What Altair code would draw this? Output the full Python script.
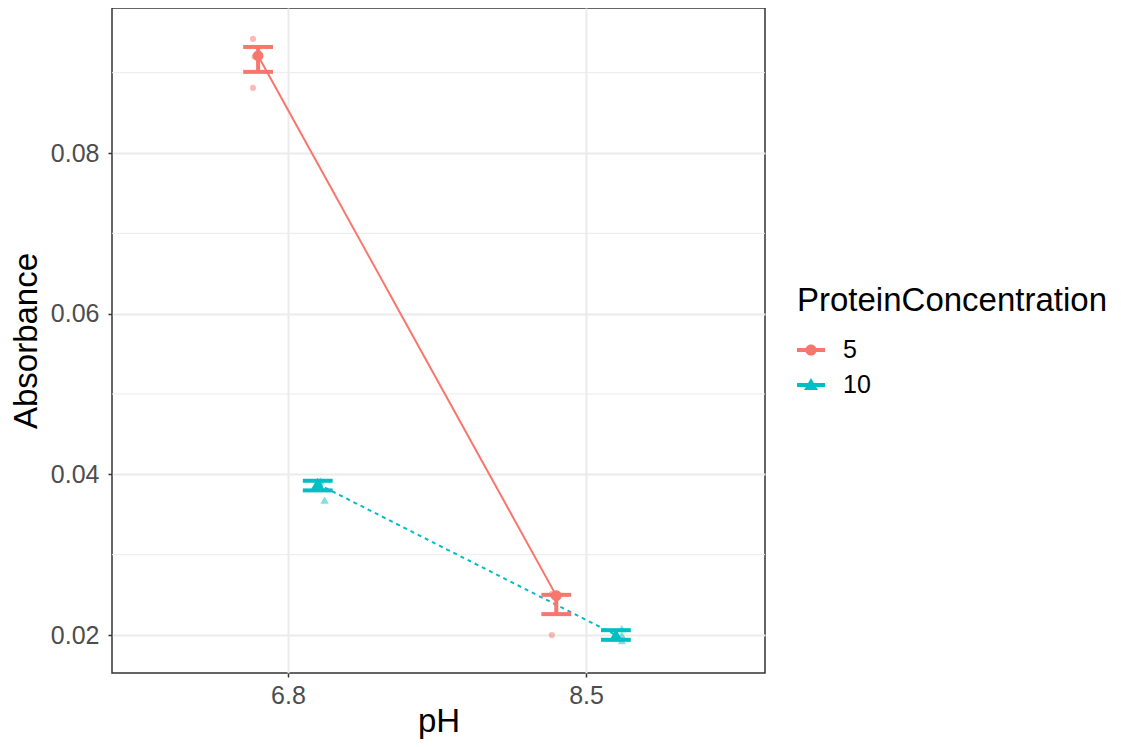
import altair as alt
import pandas as pd

# ---- data ----
ph_levels = ["6.8", "8.5"]
group_levels = ["5", "10"]

mean_ph = ["6.8", "8.5", "6.8", "8.5"]
mean_group = ["5", "5", "10", "10"]
mean_abs = [0.0921, 0.0249, 0.0388, 0.0200]
lower_abs = [0.0901, 0.0226, 0.0380, 0.0194]
upper_abs = [0.0932, 0.0250, 0.0392, 0.0206]

raw_ph = ["6.8", "6.8", "6.8", "8.5", "8.5", "8.5", "6.8", "6.8", "6.8", "8.5", "8.5", "8.5"]
raw_group = ["5", "5", "5", "5", "5", "5", "10", "10", "10", "10", "10", "10"]
raw_abs = [0.0942, 0.0920, 0.0881, 0.0251, 0.0249, 0.0200,
           0.0392, 0.0390, 0.0368, 0.0208, 0.0200, 0.0193]
raw_jitter = [-0.017, -0.012, -0.017, -0.015, -0.010, -0.015,
              0.010, 0.005, 0.023, 0.020, 0.020, 0.020]

y_major = [0.02, 0.04, 0.06, 0.08]
y_minor = [0.03, 0.05, 0.07, 0.09]

colors = ["#F8766D", "#00BFC4"]

means = pd.DataFrame({"pH": mean_ph, "group": mean_group, "mean": mean_abs,
                      "lower": lower_abs, "upper": upper_abs})
raw = pd.DataFrame({"pH": raw_ph, "group": raw_group, "value": raw_abs, "jit": raw_jitter})
minor = pd.DataFrame({"v": y_minor})

dodge = 0.1
cap = 0.05
xpos_expr = (f"indexof({ph_levels}, datum.pH) + 1 + "
             f"(datum.group === '{group_levels[0]}' ? {-dodge} : {dodge})")

label_expr = "['6.8','8.5'][datum.value - 1]"

xscale = alt.Scale(domain=[0.41, 2.6], nice=False, zero=False)
yscale = alt.Scale(domain=[0.01527, 0.09805], nice=False, zero=False)

x_axis = alt.Axis(values=[1, 2], labelExpr=label_expr, title="pH",
                  titleY=58, titleBaseline="alphabetic", labelPadding=6)
y_axis = alt.Axis(values=y_major, format=".2f", title="Absorbance",
                  titleX=-76, titleBaseline="alphabetic", labelPadding=9)

cscale = alt.Scale(domain=group_levels, range=colors)
shape_scale = alt.Scale(domain=group_levels, range=["circle", "triangle-up"])
dash_scale = alt.Scale(domain=group_levels, range=[[1, 0], [4, 4]])
mean_size = alt.Scale(domain=group_levels, range=[115, 200])
raw_size = alt.Scale(domain=group_levels, range=[38, 70])

circle_key = ("M-1,-0.14 L1,-0.14 L1,0.14 L-1,0.14 Z "
              "M-0.4,0 A0.4,0.4 0 1,1 0.4,0 A0.4,0.4 0 1,1 -0.4,0 Z")
tri_key = ("M-1,-0.14 L1,-0.14 L1,0.14 L-1,0.14 Z "
           "M-0.5,0.36 L0,-0.5 L0.5,0.36 Z")
legend_shape_scale = alt.Scale(domain=group_levels, range=[circle_key, tri_key])

minor_grid = alt.Chart(minor).mark_rule(color="#EBEBEB", strokeWidth=1).encode(
    y=alt.Y("v:Q", scale=yscale, axis=y_axis)
)

base_means = alt.Chart(means).transform_calculate(xpos=xpos_expr)

raw_pts = alt.Chart(raw).transform_calculate(
    xpos=xpos_expr + " + datum.jit"
).mark_point(filled=True, opacity=0.5).encode(
    x=alt.X("xpos:Q", scale=xscale, axis=x_axis),
    y=alt.Y("value:Q", scale=yscale, axis=y_axis),
    color=alt.Color("group:N", scale=cscale, legend=None),
    shape=alt.Shape("group:N", scale=shape_scale, legend=None),
    size=alt.Size("group:N", scale=raw_size, legend=None),
)

lines = base_means.mark_line(strokeWidth=2).encode(
    x=alt.X("xpos:Q", scale=xscale, axis=x_axis),
    y=alt.Y("mean:Q", scale=yscale, axis=y_axis),
    color=alt.Color("group:N", scale=cscale, legend=None),
    strokeDash=alt.StrokeDash("group:N", scale=dash_scale, legend=None),
    detail="group:N",
    order="xpos:Q",
)

err_v = base_means.mark_rule(strokeWidth=4).encode(
    x=alt.X("xpos:Q", scale=xscale, axis=x_axis),
    y=alt.Y("lower:Q", scale=yscale, axis=y_axis),
    y2="upper:Q",
    color=alt.Color("group:N", scale=cscale, legend=None),
)

err_caps = base_means.transform_fold(
    ["lower", "upper"], as_=["end", "capv"]
).transform_calculate(
    xlo=f"datum.xpos - {cap}", xhi=f"datum.xpos + {cap}"
).mark_rule(strokeWidth=4).encode(
    x=alt.X("xlo:Q", scale=xscale, axis=x_axis),
    x2="xhi:Q",
    y=alt.Y("capv:Q", scale=yscale, axis=y_axis),
    color=alt.Color("group:N", scale=cscale, legend=None),
)

mean_pts = base_means.mark_point(filled=True, opacity=1).encode(
    x=alt.X("xpos:Q", scale=xscale, axis=x_axis),
    y=alt.Y("mean:Q", scale=yscale, axis=y_axis),
    color=alt.Color("group:N", scale=cscale, legend=None),
    shape=alt.Shape("group:N", scale=shape_scale, legend=None),
    size=alt.Size("group:N", scale=mean_size, legend=None),
)

legend_layer = base_means.mark_point(filled=True, opacity=0).encode(
    x=alt.X("xpos:Q", scale=xscale, axis=x_axis),
    y=alt.Y("mean:Q", scale=yscale, axis=y_axis),
    color=alt.Color("group:N", scale=cscale,
                    legend=alt.Legend(title="ProteinConcentration", orient="none",
                                      legendX=685, legendY=277)),
    shape=alt.Shape("group:N", scale=legend_shape_scale,
                    legend=alt.Legend(title="ProteinConcentration", orient="none",
                                      legendX=685, legendY=277)),
)

chart = alt.layer(
    minor_grid, raw_pts, lines, err_v, err_caps, mean_pts, legend_layer
).resolve_scale(
    color="independent", shape="independent", strokeDash="independent",
    size="independent"
).properties(
    width=653, height=665,
    autosize=alt.AutoSizeParams(type="none"),
    padding={"left": 104, "top": 0, "right": 348, "bottom": 66},
    background="white",
).configure_view(
    stroke="#333333", strokeWidth=1.5
).configure_axis(
    labelFont="Liberation Sans", titleFont="Liberation Sans",
    labelFontSize=25, titleFontSize=33, labelColor="#4D4D4D",
    titleColor="#000000", titleFontWeight="normal",
    tickColor="#333333", tickSize=4, tickWidth=1.5, domain=False,
    gridColor="#EBEBEB", gridWidth=2,
).configure_legend(
    titleFont="Liberation Sans", labelFont="Liberation Sans",
    titleFontSize=33, labelFontSize=25, titleFontWeight="normal",
    titleColor="#000000", labelColor="#000000", titleLimit=600, labelLimit=200,
    symbolSize=784, symbolOpacity=1, symbolStrokeWidth=0,
    labelOffset=18, rowPadding=8, titlePadding=18, padding=0,
)

chart.save("out.html", embed_options={"renderer": "svg", "actions": False})
